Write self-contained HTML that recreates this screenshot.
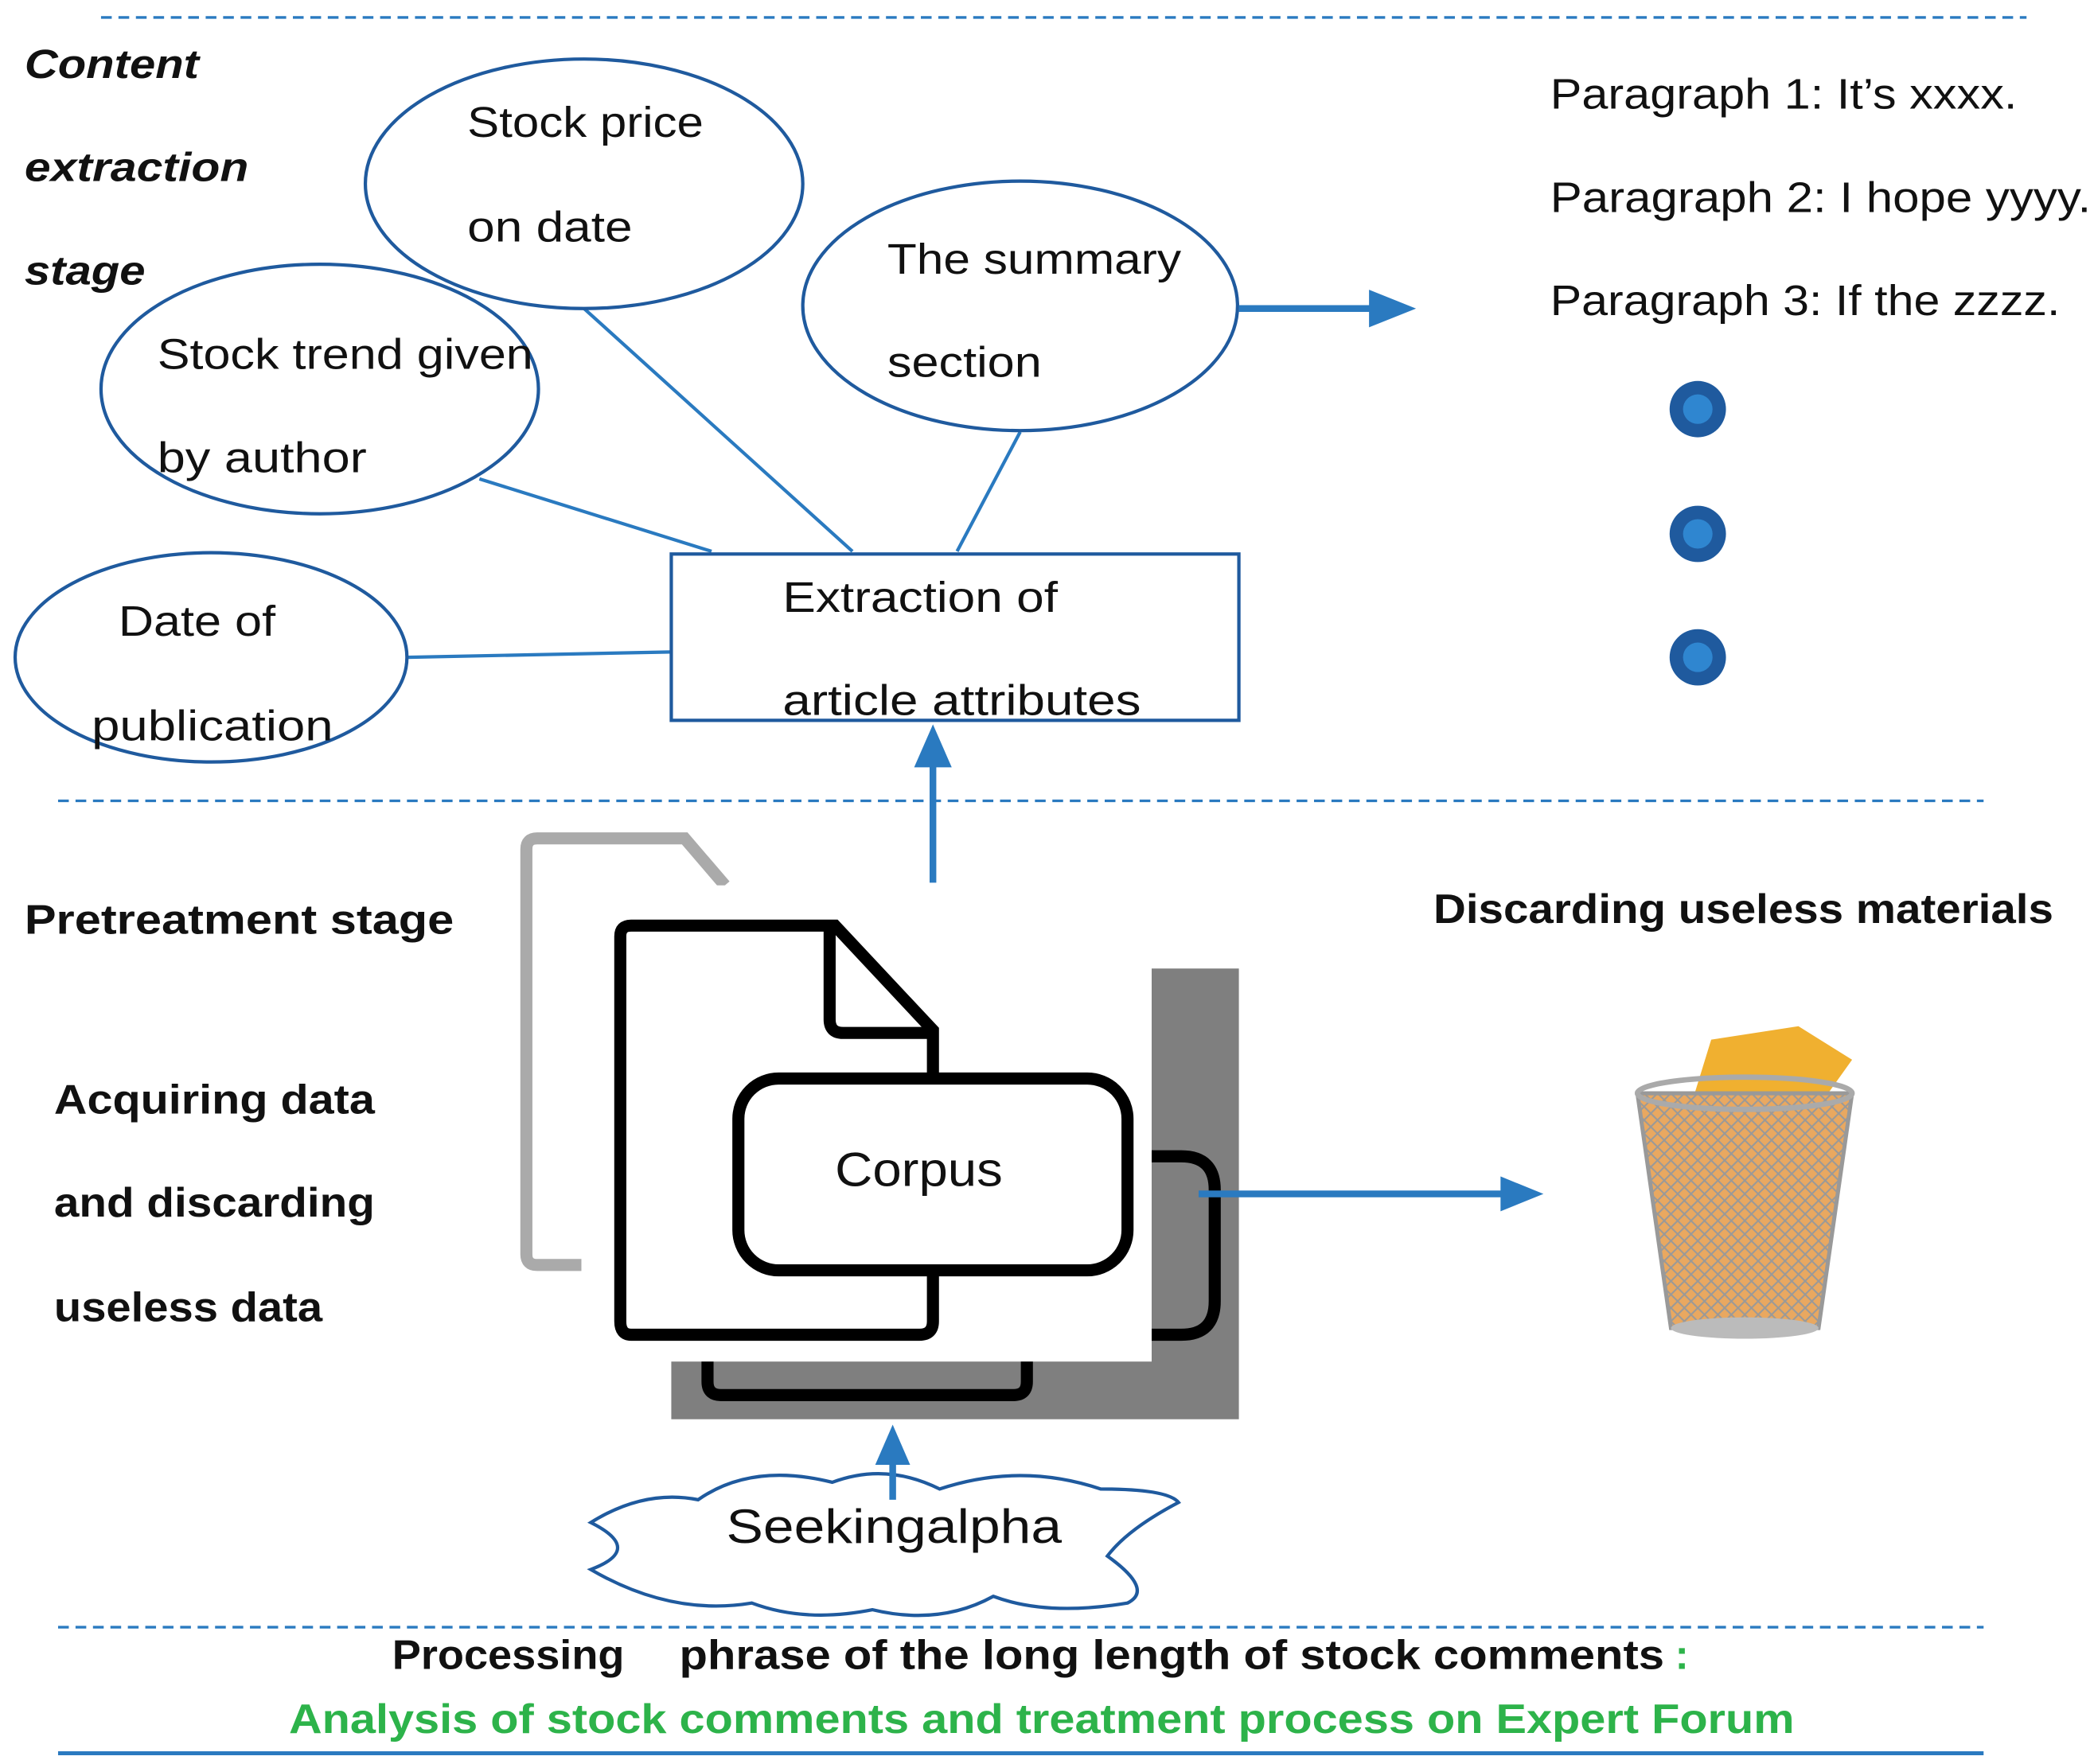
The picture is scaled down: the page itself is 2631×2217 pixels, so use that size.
<!DOCTYPE html>
<html><head><meta charset="utf-8"><style>html,body{margin:0;padding:0;background:#fff}svg{display:block}</style></head>
<body>
<svg width="2631" height="2217" viewBox="0 0 1560 1315" xmlns="http://www.w3.org/2000/svg" font-family="Liberation Sans, sans-serif">
<defs>
<pattern id="mesh" width="10" height="10" patternUnits="userSpaceOnUse"><path d="M0,0 L10,10 M10,0 L0,10" stroke="#999" stroke-width="1.2"/></pattern>
</defs>
<g stroke="#2a7ac0" stroke-width="2" stroke-dasharray="8,5">
<line x1="75" y1="13" x2="1510" y2="13"/>
<line x1="43" y1="597" x2="1478" y2="597"/>
<line x1="43" y1="1213" x2="1478" y2="1213"/>
</g>
<line x1="43" y1="1307" x2="1478" y2="1307" stroke="#2a7ac0" stroke-width="3"/>
<g font-weight="bold" font-style="italic" font-size="30" fill="#111" lengthAdjust="spacingAndGlyphs">
<text x="18" y="58" textLength="130" lengthAdjust="spacingAndGlyphs">Content</text><text x="18" y="135" textLength="167" lengthAdjust="spacingAndGlyphs">extraction</text><text x="18" y="212" textLength="90" lengthAdjust="spacingAndGlyphs">stage</text></g>
<g stroke="#2a7ac0" stroke-width="2.5">
<line x1="435" y1="230" x2="635" y2="411"/><line x1="357" y1="357" x2="530" y2="411"/>
<line x1="760" y1="322" x2="713" y2="411"/><line x1="303" y1="490" x2="500" y2="486"/></g>
<g fill="#fff" stroke="#1f5a9e" stroke-width="2.5">
<ellipse cx="435" cy="137" rx="163" ry="93"/><ellipse cx="238" cy="290" rx="163" ry="93"/>
<ellipse cx="760" cy="228" rx="162" ry="93"/><ellipse cx="157" cy="490" rx="146" ry="78"/>
<rect x="500" y="413" width="423" height="124"/></g>
<g font-size="32" fill="#111">
<text x="348" y="102" textLength="176" lengthAdjust="spacingAndGlyphs">Stock price</text><text x="348" y="180" textLength="123" lengthAdjust="spacingAndGlyphs">on date</text>
<text x="117" y="275" textLength="280" lengthAdjust="spacingAndGlyphs">Stock trend given</text><text x="117" y="352" textLength="156" lengthAdjust="spacingAndGlyphs">by author</text>
<text x="661" y="204" textLength="219" lengthAdjust="spacingAndGlyphs">The summary</text><text x="661" y="281" textLength="115" lengthAdjust="spacingAndGlyphs">section</text>
<text x="88" y="474" textLength="117" lengthAdjust="spacingAndGlyphs">Date of</text><text x="68" y="552" textLength="180" lengthAdjust="spacingAndGlyphs">publication</text>
<text x="583" y="456" textLength="205" lengthAdjust="spacingAndGlyphs">Extraction of</text><text x="583" y="533" textLength="267" lengthAdjust="spacingAndGlyphs">article attributes</text>
<text x="1155" y="81" textLength="348" lengthAdjust="spacingAndGlyphs">Paragraph 1: It’s xxxx.</text>
<text x="1155" y="158" textLength="403" lengthAdjust="spacingAndGlyphs">Paragraph 2: I hope yyyy.</text>
<text x="1155" y="235" textLength="380" lengthAdjust="spacingAndGlyphs">Paragraph 3: If the zzzz.</text></g>
<line x1="923" y1="230" x2="1025" y2="230" stroke="#2a7ac0" stroke-width="5"/>
<path d="M1020,216 L1055,230 L1020,244 Z" fill="#2a7ac0"/>
<g fill="#1f5a9e"><circle cx="1265" cy="305" r="21"/><circle cx="1265" cy="398" r="21"/><circle cx="1265" cy="490" r="21"/></g>
<g fill="#2f86d0"><circle cx="1265" cy="305" r="11"/><circle cx="1265" cy="398" r="11"/><circle cx="1265" cy="490" r="11"/></g>
<g font-size="31" font-weight="bold" fill="#111">
<text x="18" y="696" textLength="320" lengthAdjust="spacingAndGlyphs">Pretreatment stage</text>
<text x="40" y="830" textLength="239" lengthAdjust="spacingAndGlyphs">Acquiring data</text><text x="40" y="907" textLength="239" lengthAdjust="spacingAndGlyphs">and discarding</text><text x="40" y="985" textLength="200" lengthAdjust="spacingAndGlyphs">useless data</text>
<text x="1068" y="688" textLength="462" lengthAdjust="spacingAndGlyphs">Discarding useless materials</text></g>
<line x1="695" y1="658" x2="695" y2="570" stroke="#2a7ac0" stroke-width="5"/>
<path d="M681,572 L695,540 L709,572 Z" fill="#2a7ac0"/>
<path d="M433,943 L400,943 Q392,943 392,935 L392,633 Q392,625 400,625 L510,625 L540,660" fill="none" stroke="#aaa" stroke-width="9"/>
<rect x="500" y="722" width="423" height="336" fill="#7f7f7f"/>
<rect x="440" y="660" width="418" height="355" fill="#fff"/>
<path d="M858,862 L880,862 Q905,862 905,887 L905,970 Q905,995 880,995 L858,995" fill="none" stroke="#000" stroke-width="9"/>
<path d="M527,1015 L527,1030 Q527,1040 537,1040 L755,1040 Q765,1040 765,1030 L765,1015" fill="none" stroke="#000" stroke-width="9"/>
<path d="M470,690 L622,690 L695,768 L695,985 Q695,995 685,995 L470,995 Q462,995 462,985 L462,698 Q462,690 470,690 Z" fill="#fff" stroke="#000" stroke-width="9"/>
<path d="M618,692 L618,760 Q618,770 628,770 L695,770" fill="none" stroke="#000" stroke-width="9"/>
<rect x="550" y="804" width="290" height="143" rx="30" fill="#fff" stroke="#000" stroke-width="9"/>
<text x="622" y="884" font-size="36" fill="#111" textLength="125" lengthAdjust="spacingAndGlyphs">Corpus</text>
<line x1="893" y1="890" x2="1122" y2="890" stroke="#2a7ac0" stroke-width="5"/>
<path d="M1118,877 L1150,890 L1118,903 Z" fill="#2a7ac0"/>
<path d="M1275,775 L1340,765 L1380,790 L1330,860 L1255,840 Z" fill="#f0b030"/>
<path d="M1220,815 L1380,815 L1355,990 L1245,990 Z" fill="#e9a860"/>
<path d="M1220,815 L1380,815 L1355,990 L1245,990 Z" fill="url(#mesh)" stroke="#999" stroke-width="3"/>
<ellipse cx="1300" cy="815" rx="80" ry="12" fill="none" stroke="#aaa" stroke-width="4"/>
<ellipse cx="1300" cy="990" rx="55" ry="8" fill="#bbb"/>
<path d="M440,1135 Q480,1110 520,1118 Q560,1090 620,1105 Q660,1090 700,1110 Q760,1090 820,1110 Q870,1110 878,1120 Q840,1140 825,1160 Q860,1185 840,1195 Q780,1205 740,1190 Q700,1212 650,1200 Q600,1210 560,1195 Q500,1205 440,1170 Q480,1155 440,1135 Z" fill="#fff" stroke="#1f5a9e" stroke-width="2.5"/>
<text x="541" y="1150" font-size="36" fill="#111" textLength="250" lengthAdjust="spacingAndGlyphs">Seekingalpha</text>
<line x1="665" y1="1118" x2="665" y2="1090" stroke="#2a7ac0" stroke-width="5"/>
<path d="M652,1092 L665,1062 L678,1092 Z" fill="#2a7ac0"/>
<g font-size="31" font-weight="bold">
<text x="292" y="1244" fill="#111" textLength="173" lengthAdjust="spacingAndGlyphs">Processing</text>
<text x="506" y="1244" fill="#111" textLength="734" lengthAdjust="spacingAndGlyphs">phrase of the long length of stock comments</text>
<text x="1248" y="1244" fill="#2db34a">:</text>
<text x="215" y="1292" fill="#2db34a" textLength="1122" lengthAdjust="spacingAndGlyphs">Analysis of stock comments and treatment process on Expert Forum</text>
</g>
</svg>
</body></html>
